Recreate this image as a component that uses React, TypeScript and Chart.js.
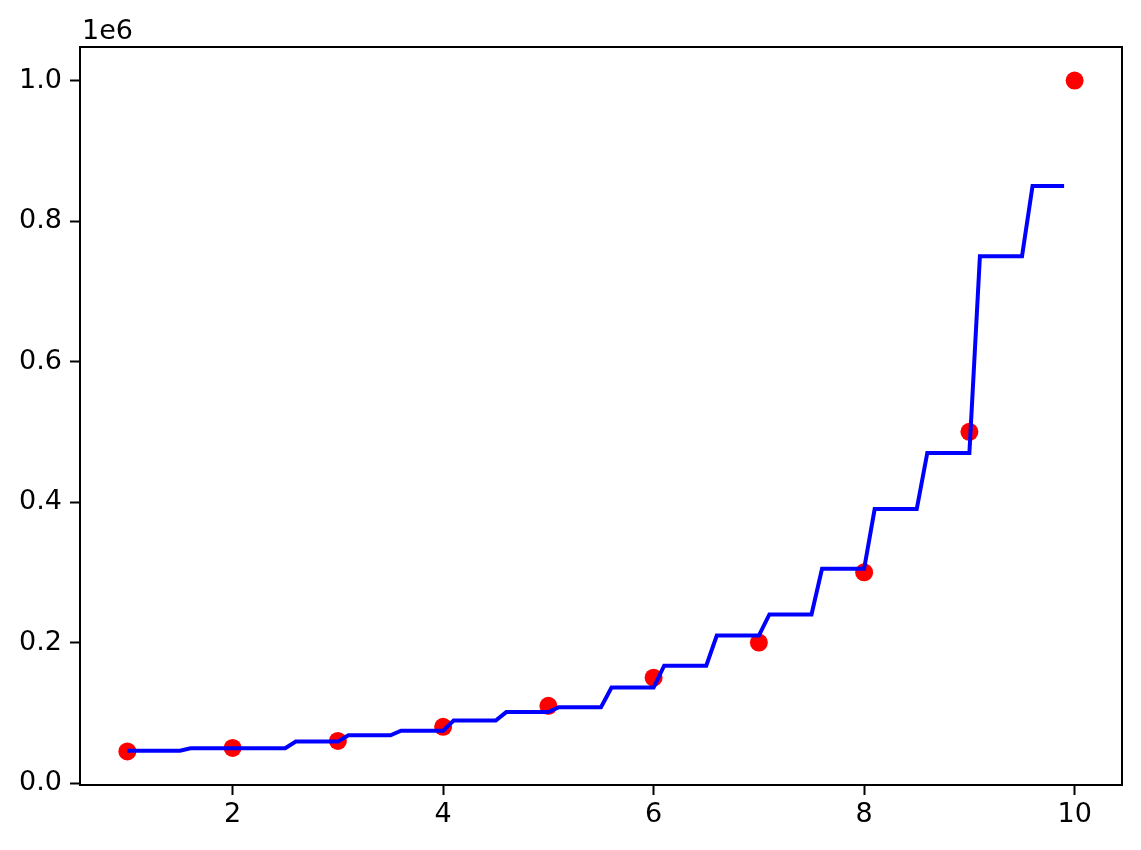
import React, { useEffect, useRef } from 'react';
import { Chart, registerables } from 'chart.js';

Chart.register(...registerables);

// Observed data points (red dots)
const levels = [1, 2, 3, 4, 5, 6, 7, 8, 9, 10];
const salaries = [45000, 50000, 60000, 80000, 110000, 150000, 200000, 300000, 500000, 1000000];

// Predicted step curve (blue line): each step's start x, end x and level
const stepStart = [1.0, 1.6, 2.6, 3.1, 3.6, 4.1, 4.6, 5.1, 5.6, 6.1, 6.6, 7.1, 7.6, 8.1, 8.6, 9.1, 9.6];
const stepEnd = [1.5, 2.5, 3.0, 3.5, 4.0, 4.5, 5.0, 5.5, 6.0, 6.5, 7.0, 7.5, 8.0, 8.5, 9.0, 9.5, 9.9];
const stepLevel = [46000, 49500, 59000, 68000, 74500, 89000, 101000, 108000, 136000, 167000, 210000, 240000, 305000, 390000, 470000, 750000, 850000];

// Axes
const xTicks = [2, 4, 6, 8, 10];
const yTicks = [0, 200000, 400000, 600000, 800000, 1000000];
const xMin = 0.55;
const xMax = 10.45;
const yMin = -2750;
const yMax = 1047750;

const FONT = 'DejaVu Sans';
const FS = 27;

const framePlugin = {
  id: 'frame',
  afterDraw(chart: any) {
    const { ctx, chartArea } = chart;
    ctx.save();
    ctx.strokeStyle = '#000';
    ctx.lineWidth = 2;
    ctx.strokeRect(chartArea.left, chartArea.top, chartArea.right - chartArea.left, chartArea.bottom - chartArea.top);
    ctx.fillStyle = '#000';
    ctx.font = `${FS}px "${FONT}"`;
    ctx.textAlign = 'left';
    ctx.textBaseline = 'alphabetic';
    ctx.fillText('1e6', chartArea.left + 2, chartArea.top - 8);
    ctx.restore();
  },
};

export default function App() {
  const ref = useRef<HTMLCanvasElement>(null);

  useEffect(() => {
    const lineData: { x: number; y: number }[] = [];
    stepStart.forEach((s, i) => {
      lineData.push({ x: s, y: stepLevel[i] });
      lineData.push({ x: stepEnd[i], y: stepLevel[i] });
    });
    const pointData = levels.map((x, i) => ({ x, y: salaries[i] }));

    const chart = new Chart(ref.current as HTMLCanvasElement, {
      type: 'scatter',
      data: {
        datasets: [
          {
            data: lineData,
            showLine: true,
            borderColor: '#0000ff',
            borderWidth: 4,
            pointRadius: 0,
            fill: false,
            order: 0,
          } as any,
          {
            data: pointData,
            backgroundColor: '#ff0000',
            borderWidth: 0,
            pointRadius: 9,
            order: 1,
          },
        ],
      },
      options: {
        animation: false,
        responsive: false,
        devicePixelRatio: 1,
        layout: { padding: { left: 0, top: 47, right: 19, bottom: 0 } },
        plugins: { legend: { display: false }, tooltip: { enabled: false } },
        scales: {
          x: {
            type: 'linear',
            min: xMin,
            max: xMax,
            afterBuildTicks: (s: any) => {
              s.ticks = xTicks.map((v) => ({ value: v }));
            },
            afterFit: (s: any) => {
              s.height = 65;
            },
            grid: { drawOnChartArea: false, drawTicks: true, tickLength: 10, tickColor: '#000', tickWidth: 2 },
            border: { display: true, color: '#000', width: 2 },
            ticks: {
              color: '#000',
              font: { family: FONT, size: FS },
              padding: 4,
              maxRotation: 0,
              callback: (v: any) => String(v),
            },
          },
          y: {
            type: 'linear',
            min: yMin,
            max: yMax,
            afterBuildTicks: (s: any) => {
              s.ticks = yTicks.map((v) => ({ value: v }));
            },
            afterFit: (s: any) => {
              s.width = 80;
            },
            grid: { drawOnChartArea: false, drawTicks: true, tickLength: 10, tickColor: '#000', tickWidth: 2 },
            border: { display: true, color: '#000', width: 2 },
            ticks: {
              color: '#000',
              font: { family: FONT, size: FS },
              padding: 8,
              callback: (v: any) => (Number(v) / 1e6).toFixed(1),
            },
          },
        },
      },
      plugins: [framePlugin],
    });
    return () => chart.destroy();
  }, []);

  return (
    <div style={{ position: 'absolute', left: 0, top: 0, width: 1141, height: 850, background: '#fff' }}>
      <canvas ref={ref} width={1141} height={850} style={{ display: 'block', width: 1141, height: 850 }} />
    </div>
  );
}
